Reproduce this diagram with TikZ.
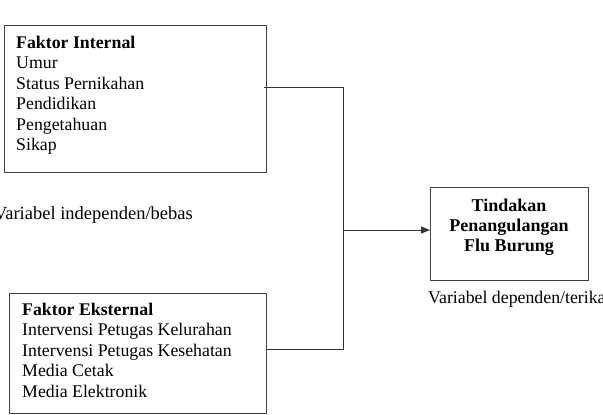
\documentclass[tikz,border=0pt]{standalone}
\usepackage{fontspec}
\setmainfont{Liberation Serif}
\usetikzlibrary{arrows.meta}
\begin{document}
\begin{tikzpicture}[x=1pt,y=-1pt,
  box/.style={draw=black!75, line width=0.9pt, inner sep=0pt, anchor=north west},
  txt/.style={font=\fontsize{17.8}{20.5}\selectfont, inner sep=0pt, align=left},
  conn/.style={draw=black!80, line width=0.8pt},
  lbl/.style={font=\fontsize{17.8}{20.5}\selectfont, inner sep=0pt}]
\useasboundingbox[fill=white] (0,0) rectangle (603,415);
% boxes
\node[box, minimum width=262pt, minimum height=147pt] (internal) at (4,25) {};
\node[box, minimum width=257pt, minimum height=120pt] (external) at (9,293) {};
\node[box, minimum width=158pt, minimum height=93pt] (target) at (430,187) {};
% texts (anchor base = baseline of the last line)
\node[txt, anchor=base west] (inttext) at (16,150.5) {\textbf{Faktor Internal}\\Umur\\Status Pernikahan\\Pendidikan\\Pengetahuan\\Sikap};
\node[txt, anchor=base west] (exttext) at (22,397) {\textbf{Faktor Eksternal}\\Intervensi Petugas Kelurahan\\Intervensi Petugas Kesehatan\\Media Cetak\\Media Elektronik};
\node[txt, font=\fontsize{18}{20}\selectfont, align=center, anchor=base] (tgttext) at (509,251) {\textbf{Tindakan}\\\textbf{Penangulangan}\\\textbf{Flu Burung}};
\node[lbl, font=\fontsize{18.5}{20.5}\selectfont, anchor=base east] (indep) at (193,219) {Variabel independen/bebas};
\node[lbl, anchor=base west] (dep) at (428,303) {Variabel dependen/terikat};
% connectors
\coordinate (j1) at (343,87);
\coordinate (j2) at (343,349);
\coordinate (j3) at (343,230);
\draw[conn] (internal.east |- j1) ++(-3,0) -- (j1) -- (j2) -- (external.east |- j2);
\draw[conn, -{Triangle[length=9pt,width=7pt]}] (j3) -- (target.west |- j3);
\end{tikzpicture}
\end{document}
